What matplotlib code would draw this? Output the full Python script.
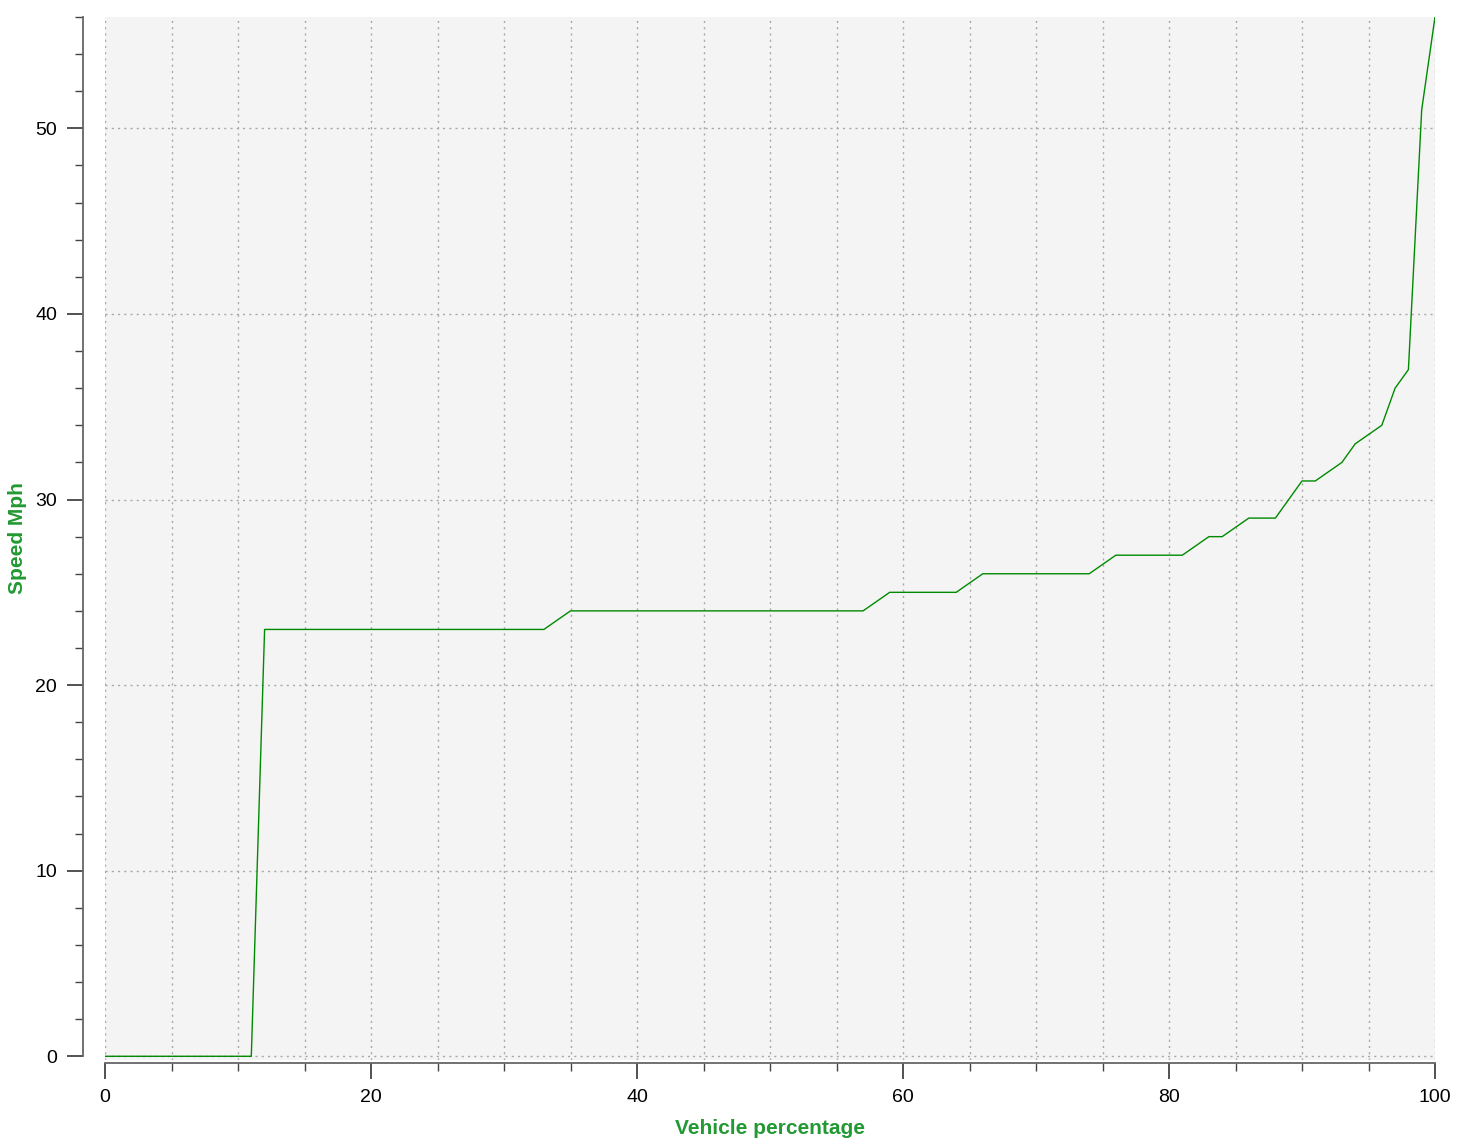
import matplotlib.pyplot as plt
from matplotlib.ticker import MultipleLocator

plt.rcParams['font.family'] = ['Liberation Sans', 'DejaVu Sans']

# breakpoints of the speed distribution curve
vehicle_pct = [0, 11, 12, 33, 35, 57, 59, 64, 66, 74, 76, 81, 83, 84, 86, 88,
               90, 91, 93, 94, 96, 97, 98, 99, 100]
speed_mph = [0, 0, 23, 23, 24, 24, 25, 25, 26, 26, 27, 27, 28, 28, 29, 29,
             31, 31, 32, 33, 34, 36, 37, 51, 56]

x_label = "Vehicle percentage"
y_label = "Speed Mph"

W, H = 1469, 1145
PX = 72 / 100  # 1 pixel in points at dpi 100

fig = plt.figure(figsize=(W / 100, H / 100), dpi=100)
ax = fig.add_axes([105 / W, (H - 1060) / H, (1435 - 105) / W, (1060 - 17) / H])
ax.set_facecolor('#f4f4f4')

ax.plot(vehicle_pct, speed_mph, color='#008a00', linewidth=1.0, zorder=3)

ax.set_xlim(0, 100)
ax.set_ylim(-0.2, 56)

# ===== 坐标轴 =====
ax.xaxis.set_major_locator(MultipleLocator(20))
ax.xaxis.set_minor_locator(MultipleLocator(5))
ax.yaxis.set_major_locator(MultipleLocator(10))
ax.yaxis.set_minor_locator(MultipleLocator(2))

for side in ('top', 'right'):
    ax.spines[side].set_visible(False)
ax.spines['left'].set_position(('outward', 22 * PX))
ax.spines['bottom'].set_position(('outward', 3 * PX))
ax.spines['left'].set_bounds(0, 56)
ax.spines['bottom'].set_bounds(0, 100)
for side in ('left', 'bottom'):
    ax.spines[side].set_color('#666666')
    ax.spines[side].set_linewidth(1.3)

ax.tick_params(which='major', length=16 * PX, width=1.2, color='#333333',
               labelsize=14, pad=10 * PX, labelcolor='black')
ax.tick_params(which='minor', length=8 * PX, width=1.0, color='#444444')

# ===== 网格 =====
grid_style = dict(color='#a8a8a8', linestyle=(0, (1.5, 3)), linewidth=1.0)
ax.xaxis.grid(True, which='both', **grid_style)
ax.yaxis.grid(True, which='major', **grid_style)
ax.set_axisbelow(True)

ax.set_xlabel(x_label, fontsize=15, fontweight='bold', color='#229933', labelpad=9)
ax.set_ylabel(y_label, fontsize=15, fontweight='bold', color='#229933', labelpad=6)

fig.savefig('out.png', dpi=100)
